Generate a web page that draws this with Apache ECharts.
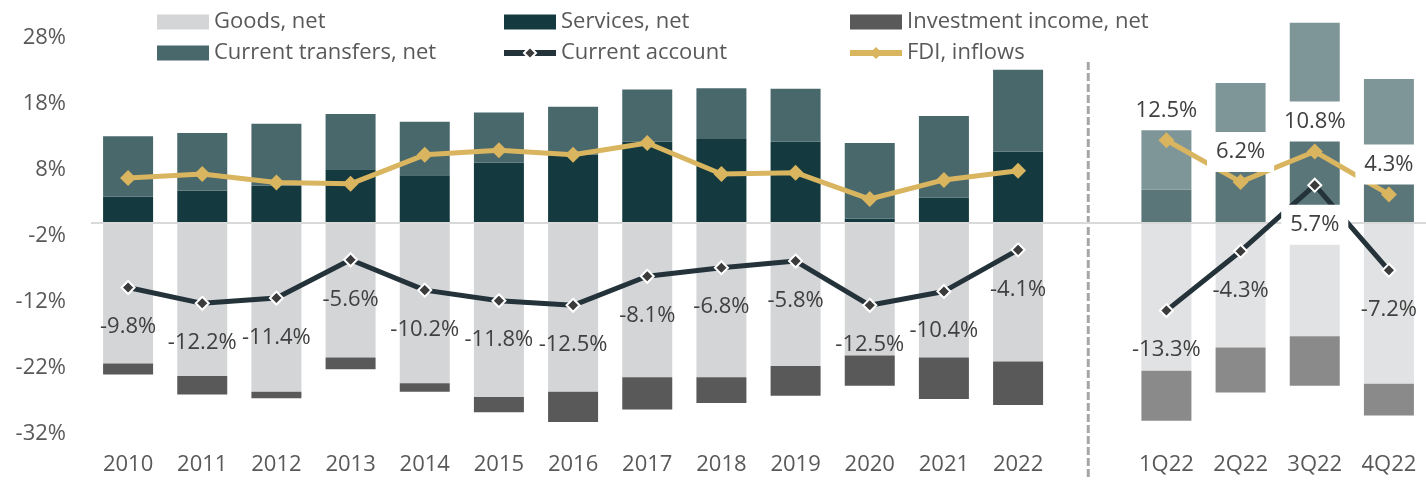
<!DOCTYPE html>
<html>
<head>
<meta charset="utf-8">
<script src="https://cdn.jsdelivr.net/npm/echarts@6/dist/echarts.min.js"></script>
<style>
html,body{margin:0;padding:0;background:#fff;}
#chart{width:1426px;height:480px;}
</style>
</head>
<body>
<div id="chart"></div>
<script>
const years = ['2010','2011','2012','2013','2014','2015','2016','2017','2018','2019','2020','2021','2022'];
const quarters = ['1Q22','2Q22','3Q22','4Q22'];
const categories = years.concat([' '], quarters);

const goods          = [-21.3,-23.2,-25.6,-20.4,-24.3,-26.4,-25.6,-23.4,-23.4,-21.7,-20.1,-20.4,-21.0,null,-22.4,-18.9,-17.2,-24.4];
const services       = [4.0,4.9,5.6,8.1,7.2,9.1,10.3,12.3,12.7,12.3,0.6,3.8,10.8,null,5.0,11.0,15.5,9.5];
const investIncome   = [-1.7,-2.8,-1.0,-1.8,-1.3,-2.3,-4.6,-4.9,-3.9,-4.5,-4.6,-6.3,-6.6,null,-7.6,-6.8,-7.5,-4.8];
const transfers      = [9.1,8.7,9.4,8.4,8.1,7.6,7.3,7.9,7.7,8.0,11.5,12.4,12.4,null,9.5,10.2,14.8,12.3];
const currentAccount = [-9.8,-12.2,-11.4,-5.6,-10.2,-11.8,-12.5,-8.1,-6.8,-5.8,-12.5,-10.4,-4.1,null,-13.3,-4.3,5.7,-7.2];
const fdiInflows     = [6.8,7.4,6.1,5.9,10.3,11.0,10.3,12.1,7.4,7.6,3.6,6.5,7.9,null,12.5,6.2,10.8,4.3];

const FONT = '"Open Sans", "Noto Sans", sans-serif';
const isQuarter = i => quarters.indexOf(categories[i]) >= 0;

function barData(arr, qColor) {
  return arr.map((v, i) => isQuarter(i) ? { value: v, itemStyle: { color: qColor } } : v);
}
const pct = p => p.value.toFixed(1) + '%';

// quarterly current-account label sitting on a dark (positive) bar gets a white box
const caData = currentAccount.map((v, i) => ({
  value: v,
  label: (isQuarter(i) && v > 0) ? { backgroundColor: '#fff' } : {}
}));
const fdiData = fdiInflows.map((v, i) => ({
  value: v,
  label: isQuarter(i) ? { show: true } : { show: false }
}));

const chart = echarts.init(document.getElementById('chart'));
const legendText = { color: '#595959', fontSize: 22, fontFamily: FONT, lineHeight: 26 };
const legendBase = {
  orient: 'vertical', top: 9, padding: 0, itemWidth: 52, itemHeight: 15, itemGap: 5,
  textStyle: legendText, lineStyle: { width: 6 }
};

chart.setOption({
  animation: false,
  textStyle: { fontFamily: FONT },
  legend: [
    Object.assign({}, legendBase, { left: 157, data: [{ name: 'Goods, net', icon: 'rect' }, { name: 'Current transfers, net', icon: 'rect' }] }),
    Object.assign({}, legendBase, { left: 501, data: [{ name: 'Services, net', icon: 'rect' }, 'Current account'] }),
    Object.assign({}, legendBase, { left: 847, data: [{ name: 'Investment income, net', icon: 'rect' }, 'FDI, inflows'] })
  ],
  grid: { left: 91, right: -8, top: 38, bottom: 46, containLabel: false },
  xAxis: {
    type: 'category',
    data: categories,
    axisLine: { show: false },
    axisTick: { show: false },
    axisLabel: { color: '#595959', fontSize: 22, fontFamily: FONT, margin: 20, interval: 0 }
  },
  yAxis: {
    type: 'value',
    min: -32, max: 28, interval: 10,
    axisLine: { show: false },
    axisTick: { show: false },
    splitLine: { show: false },
    axisLabel: { color: '#595959', fontSize: 22, fontFamily: FONT, margin: 25, formatter: '{value}%' }
  },
  series: [
    {
      name: 'Goods, net', type: 'bar', stack: 'ca', barWidth: 50, clip: false,
      itemStyle: { color: '#d4d5d7' },
      data: barData(goods, '#e1e2e3'),
      markLine: {
        silent: true, symbol: ['none', 'none'], label: { show: false },
        lineStyle: { color: '#d9d9d9', width: 2, type: 'solid' },
        data: [{ yAxis: 0 }]
      }
    },
    {
      name: 'Services, net', type: 'bar', stack: 'ca', barWidth: 50, clip: false,
      itemStyle: { color: '#143a3f' },
      data: barData(services, '#5a7679')
    },
    {
      name: 'Investment income, net', type: 'bar', stack: 'ca', barWidth: 50, clip: false,
      itemStyle: { color: '#595959' },
      data: barData(investIncome, '#8a8a8a')
    },
    {
      name: 'Current transfers, net', type: 'bar', stack: 'ca', barWidth: 50, clip: false,
      itemStyle: { color: '#48686c' },
      data: barData(transfers, '#7f9699')
    },
    {
      name: 'Current account', type: 'line', z: 5, clip: false,
      data: caData, connectNulls: false,
      symbol: 'diamond', symbolSize: 13,
      lineStyle: { color: '#24323a', width: 5 },
      itemStyle: { color: '#3b3b3b', borderColor: '#ffffff', borderWidth: 2 },
      label: {
        show: true, position: 'bottom', distance: 12, formatter: pct,
        color: '#404040', fontSize: 22, lineHeight: 24, fontFamily: FONT, padding: [8, 9]
      }
    },
    {
      name: 'FDI, inflows', type: 'line', z: 6, clip: false,
      data: fdiData, connectNulls: false,
      symbol: 'diamond', symbolSize: 16,
      lineStyle: { color: '#d9b55f', width: 5 },
      itemStyle: { color: '#d9b55f' },
      label: {
        position: 'top', distance: 2, formatter: pct,
        color: '#404040', fontSize: 22, lineHeight: 24, fontFamily: FONT, padding: [8, 9],
        backgroundColor: '#fff'
      }
    }
  ]
});

// dashed separator between annual and quarterly data, placed at the blank category
const sepX = chart.convertToPixel({ xAxisIndex: 0 }, ' ');
chart.setOption({
  graphic: [{
    type: 'line', silent: true, z: 1,
    shape: { x1: sepX - 4, y1: 62, x2: sepX - 4, y2: 478 },
    style: { stroke: '#a6a6a6', lineWidth: 3, lineDash: [8, 3] }
  }]
});
</script>
</body>
</html>
